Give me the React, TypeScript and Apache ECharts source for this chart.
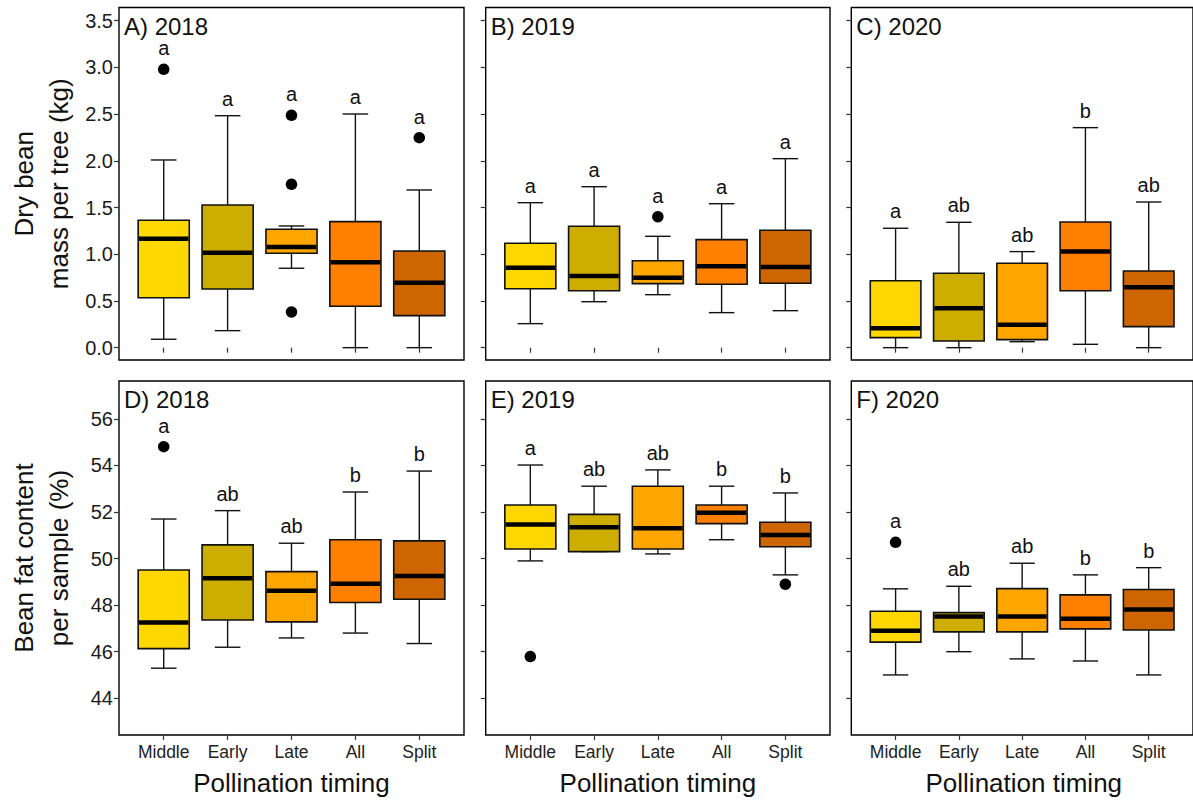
import React, { useEffect, useRef } from "react";
import * as echarts from "echarts";

const categories = ["Middle", "Early", "Late", "All", "Split"];
const boxColors = ["#FFD700", "#CDAD00", "#FFA500", "#FF7F00", "#CD6600"];
const panelTitles = ["A) 2018", "B) 2019", "C) 2020", "D) 2018", "E) 2019", "F) 2020"];

// each row: [lower whisker, Q1, median, Q3, upper whisker]
const mass2018 = [
  [0.09, 0.535, 1.167, 1.364, 2.009],
  [0.182, 0.628, 1.017, 1.527, 2.483],
  [0.85, 1.01, 1.078, 1.267, 1.303],
  [0, 0.443, 0.914, 1.349, 2.501],
  [0, 0.343, 0.696, 1.035, 1.688],
];
const mass2019 = [
  [0.257, 0.631, 0.856, 1.117, 1.552],
  [0.492, 0.61, 0.767, 1.299, 1.723],
  [0.567, 0.685, 0.749, 0.931, 1.192],
  [0.375, 0.679, 0.871, 1.156, 1.541],
  [0.396, 0.689, 0.864, 1.257, 2.023],
];
const mass2020 = [
  [0, 0.107, 0.208, 0.717, 1.278],
  [0, 0.072, 0.421, 0.796, 1.342],
  [0.064, 0.086, 0.246, 0.903, 1.028],
  [0.036, 0.61, 1.028, 1.345, 2.355],
  [0, 0.225, 0.646, 0.821, 1.559],
];
const fat2018 = [
  [45.29, 46.13, 47.25, 49.51, 51.7],
  [46.19, 47.36, 49.15, 50.59, 52.06],
  [46.59, 47.28, 48.62, 49.44, 50.66],
  [46.8, 48.11, 48.92, 50.81, 52.86],
  [46.35, 48.25, 49.25, 50.76, 53.76],
];
const fat2019 = [
  [49.9, 50.41, 51.46, 52.3, 54.02],
  [50.3, 50.3, 51.35, 51.9, 53.11],
  [50.2, 50.41, 51.3, 53.11, 53.81],
  [50.81, 51.5, 51.97, 52.3, 53.11],
  [49.3, 50.51, 51.01, 51.56, 52.82],
];
const fat2020 = [
  [45.0, 46.41, 46.9, 47.74, 48.7],
  [46.0, 46.85, 47.51, 47.68, 48.81],
  [45.69, 46.85, 47.51, 48.71, 49.8],
  [45.6, 46.98, 47.42, 48.44, 49.3],
  [45.0, 46.93, 47.81, 48.67, 49.61],
];

// outliers: [category index, value]
const massOut2018 = [[0, 2.98], [2, 2.487], [2, 1.749], [2, 0.382], [4, 2.248]];
const massOut2019 = [[2, 1.402]];
const massOut2020: number[][] = [];
const fatOut2018 = [[0, 54.81]];
const fatOut2019 = [[0, 45.79], [4, 48.9]];
const fatOut2020 = [[0, 50.7]];

const massLetters2018 = ["a", "a", "a", "a", "a"];
const massLetters2019 = ["a", "a", "a", "a", "a"];
const massLetters2020 = ["a", "ab", "ab", "b", "ab"];
const fatLetters2018 = ["a", "ab", "ab", "b", "b"];
const fatLetters2019 = ["a", "ab", "ab", "b", "b"];
const fatLetters2020 = ["a", "ab", "ab", "b", "b"];

const massTicks = [0, 0.5, 1, 1.5, 2, 2.5, 3, 3.5];
const fatTicks = [44, 46, 48, 50, 52, 54, 56];

const FONT = "'Liberation Sans', Arial, Helvetica, sans-serif";

const panels = [
  { boxes: mass2018, outliers: massOut2018, letters: massLetters2018 },
  { boxes: mass2019, outliers: massOut2019, letters: massLetters2019 },
  { boxes: mass2020, outliers: massOut2020, letters: massLetters2020 },
  { boxes: fat2018, outliers: fatOut2018, letters: fatLetters2018 },
  { boxes: fat2019, outliers: fatOut2019, letters: fatLetters2019 },
  { boxes: fat2020, outliers: fatOut2020, letters: fatLetters2020 },
];

const gridLefts = [119, 485.7, 851.3];
const gridWidths = [345, 344.3, 345];
const gridTops = [7.5, 381];
const gridHeights = [352.5, 354];

function buildOption() {
  const grid: any[] = [];
  const xAxis: any[] = [];
  const yAxis: any[] = [];
  const series: any[] = [];
  const graphic: any[] = [];

  panels.forEach((p, i) => {
    const row = Math.floor(i / 3);
    const col = i % 3;
    grid.push({
      left: gridLefts[col],
      top: gridTops[row],
      width: gridWidths[col],
      height: gridHeights[row],
      show: true,
      borderColor: "#000",
      borderWidth: 1.4,
      backgroundColor: "transparent",
    });
    xAxis.push({
      type: "value",
      gridIndex: i,
      min: 0.3,
      max: 5.7,
      splitLine: { show: false },
      axisLine: { show: false },
      axisTick: {
        show: true,
        customValues: [1, 2, 3, 4, 5],
        length: 5,
        lineStyle: { color: "#333", width: 1.2 },
      },
      axisLabel: {
        show: row === 1,
        customValues: [1, 2, 3, 4, 5],
        formatter: (v: number) => categories[Math.round(v) - 1] ?? "",
        fontSize: 17.5,
        fontFamily: FONT,
        color: "#222",
        margin: 8,
      },
    });
    const ticks = row === 0 ? massTicks : fatTicks;
    yAxis.push({
      type: "value",
      gridIndex: i,
      min: row === 0 ? -0.132 : 42.42,
      max: row === 0 ? 3.641 : 57.63,
      splitLine: { show: false },
      axisLine: { show: false },
      axisTick: {
        show: true,
        customValues: ticks,
        length: 5,
        lineStyle: { color: "#333", width: 1.2 },
      },
      axisLabel: {
        show: col === 0,
        customValues: ticks,
        formatter: (v: number) => (row === 0 ? v.toFixed(1) : String(v)),
        fontSize: 20,
        fontFamily: FONT,
        color: "#1a1a1a",
        margin: 6,
      },
    });

    const boxData = p.boxes.map((b, ci) => [ci + 1, b[0], b[1], b[2], b[3], b[4], ci]);
    series.push({
      type: "custom",
      xAxisIndex: i,
      yAxisIndex: i,
      data: boxData,
      encode: { x: 0, y: [1, 2, 3, 4, 5] },
      renderItem: (params: any, api: any) => {
        const x = api.value(0);
        const ci = api.value(6);
        const pLow = api.coord([x, api.value(1)]);
        const pQ1 = api.coord([x, api.value(2)]);
        const pMed = api.coord([x, api.value(3)]);
        const pQ3 = api.coord([x, api.value(4)]);
        const pHigh = api.coord([x, api.value(5)]);
        const bw = api.size([0.8, 0])[0];
        const cw = api.size([0.4, 0])[0];
        const cx = pMed[0];
        const ls = { stroke: "#111", lineWidth: 1.4 };
        return {
          type: "group",
          children: [
            { type: "line", shape: { x1: cx, y1: pHigh[1], x2: cx, y2: pQ3[1] }, style: ls },
            { type: "line", shape: { x1: cx, y1: pQ1[1], x2: cx, y2: pLow[1] }, style: ls },
            { type: "line", shape: { x1: cx - cw / 2, y1: pHigh[1], x2: cx + cw / 2, y2: pHigh[1] }, style: ls },
            { type: "line", shape: { x1: cx - cw / 2, y1: pLow[1], x2: cx + cw / 2, y2: pLow[1] }, style: ls },
            {
              type: "rect",
              shape: { x: cx - bw / 2, y: pQ3[1], width: bw, height: pQ1[1] - pQ3[1] },
              style: { fill: boxColors[ci], stroke: "#111", lineWidth: 1.6 },
            },
            {
              type: "line",
              shape: { x1: cx - bw / 2 + 0.8, y1: pMed[1], x2: cx + bw / 2 - 0.8, y2: pMed[1] },
              style: { stroke: "#000", lineWidth: 4.5 },
            },
          ],
        };
      },
    });

    series.push({
      type: "scatter",
      xAxisIndex: i,
      yAxisIndex: i,
      symbol: "circle",
      symbolSize: 11.5,
      itemStyle: { color: "#000", opacity: 1 },
      data: p.outliers.map((o) => [o[0] + 1, o[1]]),
    });

    const letterData = p.boxes.map((b, ci) => {
      const ups = p.outliers.filter((o) => o[0] === ci && o[1] > b[4]).map((o) => o[1]);
      const top = ups.length ? Math.max(...ups) : b[4];
      return [ci + 1, top, ups.length ? 1 : 0];
    });
    const letters = p.letters;
    series.push({
      type: "custom",
      xAxisIndex: i,
      yAxisIndex: i,
      data: letterData,
      encode: { x: 0, y: 1 },
      renderItem: (params: any, api: any) => {
        const pt = api.coord([api.value(0), api.value(1)]);
        const off = api.value(2) ? 21 : 17;
        return {
          type: "text",
          x: pt[0],
          y: pt[1] - off,
          style: {
            text: letters[params.dataIndex],
            fill: "#111",
            fontSize: 20,
            lineHeight: 17,
            fontFamily: FONT,
            align: "center",
            verticalAlign: "middle",
          },
        };
      },
    });

    graphic.push({
      type: "text",
      x: gridLefts[col] + 5,
      y: gridTops[row] + 18.5,
      style: {
        text: panelTitles[i],
        fontSize: 24,
        lineHeight: 19,
        fontFamily: FONT,
        fill: "#111",
        align: "left",
        verticalAlign: "middle",
      },
    });
  });

  // x axis titles
  [0, 1, 2].forEach((col) => {
    graphic.push({
      type: "text",
      x: gridLefts[col] + gridWidths[col] / 2,
      y: 783,
      style: {
        text: "Pollination timing",
        fontSize: 26,
        fontFamily: FONT,
        fill: "#111",
        align: "center",
        verticalAlign: "middle",
      },
    });
  });

  // y axis titles
  const yTitles = ["Dry bean\nmass per tree (kg)", "Bean fat content\nper sample (%)"];
  [0, 1].forEach((row) => {
    graphic.push({
      type: "text",
      x: 41,
      y: gridTops[row] + gridHeights[row] / 2,
      rotation: Math.PI / 2,
      style: {
        text: yTitles[row],
        fontSize: 26,
        lineHeight: 35,
        fontFamily: FONT,
        fill: "#111",
        align: "center",
        verticalAlign: "middle",
      },
    });
  });

  return {
    animation: false,
    backgroundColor: "#fff",
    grid,
    xAxis,
    yAxis,
    series,
    graphic,
  };
}

export default function App() {
  const ref = useRef<HTMLDivElement>(null);
  useEffect(() => {
    if (!ref.current) return;
    const chart = echarts.init(ref.current, null, { renderer: "svg" });
    chart.setOption(buildOption() as any);
    return () => chart.dispose();
  }, []);
  return (
    <div
      ref={ref}
      style={{ position: "fixed", left: 0, top: 0, width: 1193, height: 800, background: "#fff" }}
    />
  );
}
